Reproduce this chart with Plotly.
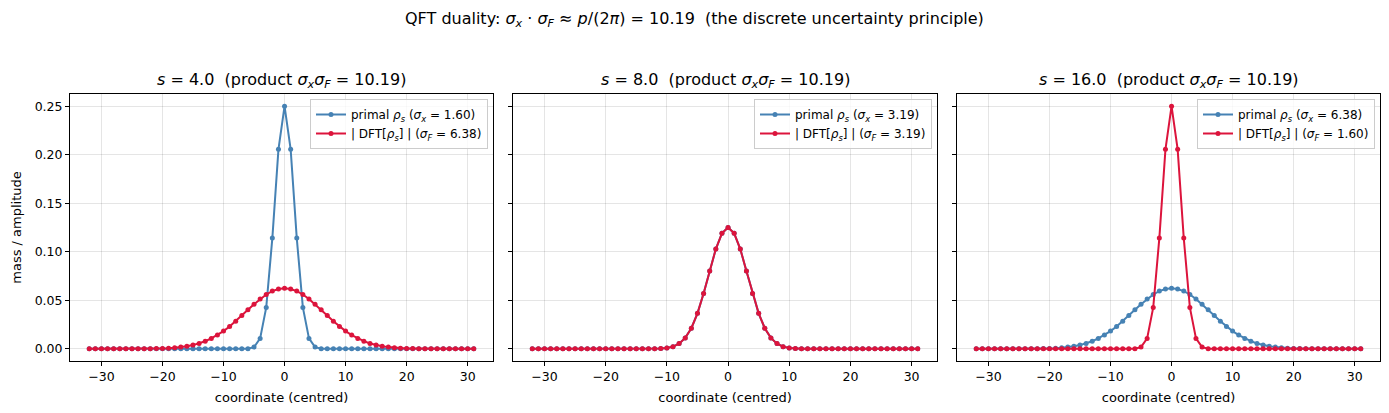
import plotly.graph_objects as go

W, H = 1389, 413

x_coord = list(range(-32, 32))

# width sigma = 1.60 (peak 0.25)
curve_narrow = [
    0.0, 0.0, 0.0, 0.0, 0.0, 0.0, 0.0, 0.0, 0.0, 0.0, 0.0, 0.0, 0.0, 0.0, 0.0, 0.0,
    0.0, 0.0, 0.0, 0.0, 0.0, 0.0, 0.0, 0.0, 0.0, 0.0,
    0.0002, 0.0018, 0.0108, 0.0427, 0.1141, 0.2055, 0.2500, 0.2055, 0.1141, 0.0427,
    0.0108, 0.0018, 0.0002,
    0.0, 0.0, 0.0, 0.0, 0.0, 0.0, 0.0, 0.0, 0.0, 0.0, 0.0, 0.0, 0.0, 0.0, 0.0, 0.0,
    0.0, 0.0, 0.0, 0.0, 0.0, 0.0, 0.0, 0.0, 0.0,
]
# width sigma = 3.19 (peak 0.125)
curve_mid = [
    0.0, 0.0, 0.0, 0.0, 0.0, 0.0, 0.0, 0.0, 0.0, 0.0, 0.0, 0.0, 0.0, 0.0, 0.0, 0.0,
    0.0, 0.0, 0.0, 0.0,
    0.0001, 0.0003, 0.0009, 0.0023, 0.0054, 0.0113, 0.0213, 0.0366, 0.0570, 0.0803,
    0.1028, 0.1190, 0.1250, 0.1190, 0.1028, 0.0803, 0.0570, 0.0366, 0.0213, 0.0113,
    0.0054, 0.0023, 0.0009, 0.0003, 0.0001,
    0.0, 0.0, 0.0, 0.0, 0.0, 0.0, 0.0, 0.0, 0.0, 0.0, 0.0, 0.0, 0.0, 0.0, 0.0, 0.0,
    0.0, 0.0, 0.0,
]
# width sigma = 6.38 (peak 0.0625)
curve_wide = [
    0.0, 0.0, 0.0, 0.0, 0.0, 0.0, 0.0, 0.0,
    0.00005, 0.0001, 0.00017, 0.0003, 0.00046, 0.00075, 0.0012, 0.0018, 0.0027, 0.0039,
    0.0056, 0.0079, 0.0107, 0.0142, 0.0183, 0.0231, 0.0285, 0.0343, 0.0402, 0.0460,
    0.0514, 0.0560, 0.0595, 0.0617, 0.0625, 0.0617, 0.0595, 0.0560, 0.0514, 0.0460,
    0.0402, 0.0343, 0.0285, 0.0231, 0.0183, 0.0142, 0.0107, 0.0079, 0.0056, 0.0039,
    0.0027, 0.0018, 0.0012, 0.00075, 0.00046, 0.0003, 0.00017, 0.0001, 0.00005,
    0.0, 0.0, 0.0, 0.0, 0.0, 0.0, 0.0,
]

s_values = ["4.0", "8.0", "16.0"]
sigma_x = ["1.60", "3.19", "6.38"]
sigma_F = ["6.38", "3.19", "1.60"]
primal_series = [curve_narrow, curve_mid, curve_wide]
dft_series = [curve_wide, curve_mid, curve_narrow]
product_label = "10.19"

x_ticks = [-30, -20, -10, 0, 10, 20, 30]
y_ticks = [0.0, 0.05, 0.10, 0.15, 0.20, 0.25]

BLUE = "#4682b4"
RED = "#dc143c"
FONT = "DejaVu Sans"

# panel pixel boxes
panels_px = [(70, 493), (513, 937), (957, 1380)]
top_px, bot_px = 94, 361
ydom = [(H - bot_px) / H, (H - top_px) / H]

fig = go.Figure()
layout = dict(
    width=W, height=H,
    margin=dict(l=0, r=0, t=0, b=0),
    paper_bgcolor="white", plot_bgcolor="white",
    font=dict(family=FONT, size=13, color="black"),
    showlegend=True,
)

annotations = []
for i in range(3):
    xa = "x" if i == 0 else f"x{i+1}"
    ya = "y" if i == 0 else f"y{i+1}"
    leg = "legend" if i == 0 else f"legend{i+1}"
    fig.add_trace(go.Scatter(
        x=x_coord, y=primal_series[i], mode="lines+markers",
        line=dict(color=BLUE, width=2), marker=dict(size=5, color=BLUE),
        name=f"primal <i>ρ<sub>s</sub></i> (<i>σ<sub>x</sub></i> = {sigma_x[i]})",
        xaxis=xa, yaxis=ya, legend=leg,
    ))
    fig.add_trace(go.Scatter(
        x=x_coord, y=dft_series[i], mode="lines+markers",
        line=dict(color=RED, width=2), marker=dict(size=5, color=RED),
        name=f"| DFT[<i>ρ<sub>s</sub></i>] | (<i>σ<sub>F</sub></i> = {sigma_F[i]})",
        xaxis=xa, yaxis=ya, legend=leg,
    ))
    x0, x1 = panels_px[i]
    xdom = [x0 / W, x1 / W]
    axkey = "xaxis" if i == 0 else f"xaxis{i+1}"
    aykey = "yaxis" if i == 0 else f"yaxis{i+1}"
    layout[axkey] = dict(
        domain=xdom, anchor=ya, range=[-35.15, 34.15],
        tickvals=x_ticks, ticktext=[str(v).replace("-", "−") for v in x_ticks],
        ticks="outside", ticklen=4, tickcolor="black",
        showline=True, linecolor="black", linewidth=1, mirror=True,
        showgrid=True, gridcolor="rgba(0,0,0,0.10)", gridwidth=1,
        zeroline=False, automargin=False,
        tickfont=dict(size=12.5),
        title=dict(text="coordinate (centred)", font=dict(size=13), standoff=9),
    )
    layout[aykey] = dict(
        domain=ydom, anchor=xa, range=[-0.0125, 0.2625],
        tickvals=y_ticks, ticktext=[f"{v:.2f}" for v in y_ticks],
        showticklabels=(i == 0),
        ticks="outside", ticklen=4, tickcolor="black",
        showline=True, linecolor="black", linewidth=1, mirror=True,
        showgrid=True, gridcolor="rgba(0,0,0,0.10)", gridwidth=1,
        zeroline=False, automargin=False,
        tickfont=dict(size=12.5),
    )
    if i == 0:
        layout[aykey]["title"] = dict(text="mass / amplitude", font=dict(size=13), standoff=10)
    else:
        layout[aykey]["matches"] = "y"
    layout[leg] = dict(
        x=xdom[1] - 5 / W, y=ydom[1] - 5 / H, xanchor="right", yanchor="top",
        xref="paper", yref="paper",
        bgcolor="rgba(255,255,255,0.8)", bordercolor="#cccccc", borderwidth=1,
        font=dict(size=12), itemwidth=30, tracegroupgap=0,
    )
    annotations.append(dict(
        x=(xdom[0] + xdom[1]) / 2, y=(H - 80) / H, xref="paper", yref="paper",
        text=f"<i>s</i> = {s_values[i]}  (product <i>σ<sub>x</sub>σ<sub>F</sub></i> = {product_label})",
        showarrow=False, font=dict(size=16), xanchor="center", yanchor="middle",
    ))

annotations.append(dict(
    x=0.5, y=(H - 20) / H, xref="paper", yref="paper",
    text=f"QFT duality: <i>σ<sub>x</sub></i> · <i>σ<sub>F</sub></i> ≈ <i>p</i>/(2<i>π</i>) = {product_label}  (the discrete uncertainty principle)",
    showarrow=False, font=dict(size=16), xanchor="center", yanchor="middle",
))
layout["annotations"] = annotations

fig.update_layout(**layout)
fig.write_html("out.html")
